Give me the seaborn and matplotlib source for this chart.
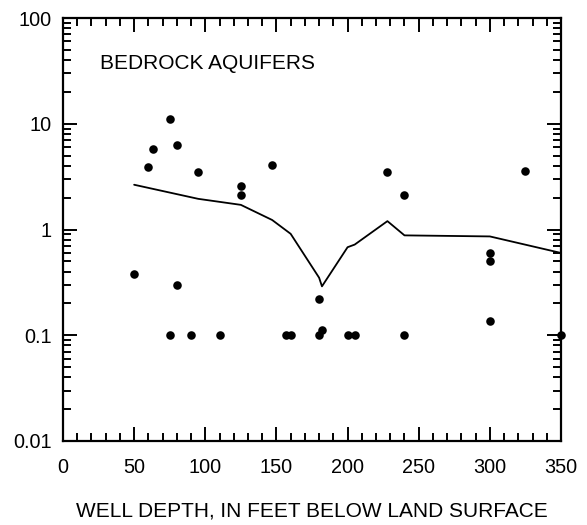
import numpy as np
import pandas as pd
import matplotlib
matplotlib.use("Agg")
import matplotlib.pyplot as plt
import seaborn as sns
from matplotlib.ticker import FixedLocator, FixedFormatter, MultipleLocator, LogLocator, NullFormatter

# Data
well_depth = [50, 60, 63, 75, 75, 80, 80, 90, 95, 110, 125, 125, 147, 157, 160,
              180, 180, 182, 200, 205, 228, 240, 240, 300, 300, 300, 325, 350]
concentration = [0.38, 3.9, 5.8, 11.0, 0.1, 6.3, 0.3, 0.1, 3.5, 0.1, 2.6, 2.1, 4.1, 0.1, 0.1,
                 0.22, 0.1, 0.113, 0.1, 0.1, 3.5, 2.1, 0.1, 0.6, 0.5, 0.135, 3.55, 0.1]

trend_depth = [50, 95, 125, 147, 160, 180, 182, 200, 205, 228, 240, 300, 350]
trend_value = [2.65, 1.95, 1.71, 1.23, 0.91, 0.35, 0.29, 0.68, 0.72, 1.2, 0.88, 0.86, 0.6]

y_ticks = [0.01, 0.1, 1, 10, 100]
y_tick_labels = ["0.01", "0.1", "1", "10", "100"]
x_ticks = [0, 50, 100, 150, 200, 250, 300, 350]

pts = pd.DataFrame({"depth": well_depth, "conc": concentration})
trend = pd.DataFrame({"depth": trend_depth, "conc": trend_value})

sns.set_theme(style="ticks")
plt.rcParams["font.family"] = ["Liberation Sans", "DejaVu Sans"]

fig = plt.figure(figsize=(5.87, 5.25), dpi=100)
ax = fig.add_axes([63/587, 1-441/525, (561-63)/587, (441-18)/525])

sns.lineplot(data=trend, x="depth", y="conc", ax=ax, color="black", linewidth=1.3,
             estimator=None, sort=False)
sns.scatterplot(data=pts, x="depth", y="conc", ax=ax, color="black", s=38,
                edgecolor="black", linewidth=0, zorder=5, clip_on=False)

ax.set_yscale("log")
ax.set_xlim(0, 350)
ax.set_ylim(0.01, 100)

ax.xaxis.set_major_locator(FixedLocator(x_ticks))
ax.xaxis.set_minor_locator(MultipleLocator(10))
ax.yaxis.set_major_locator(FixedLocator(y_ticks))
ax.yaxis.set_major_formatter(FixedFormatter(y_tick_labels))
ax.yaxis.set_minor_locator(LogLocator(base=10, subs=np.arange(2, 10)))
ax.yaxis.set_minor_formatter(NullFormatter())

for s in ax.spines.values():
    s.set_visible(True)
    s.set_linewidth(1.6)
    s.set_color("black")

ax.tick_params(which="both", direction="in", top=True, right=True, color="black", width=1.4)
ax.tick_params(which="major", length=10, labelsize=14.3, labelcolor="black")
ax.tick_params(which="minor", length=5.5)
ax.tick_params(axis="x", which="major", pad=12)
ax.tick_params(axis="y", which="major", pad=8)

ax.set_xlabel("WELL DEPTH, IN FEET BELOW LAND SURFACE", fontsize=15, labelpad=18, color="black")
ax.set_ylabel("")

ax.text(0.074, 0.892, "BEDROCK AQUIFERS", transform=ax.transAxes, fontsize=15,
        va="center", ha="left", color="black")

fig.savefig("out.png", dpi=100)
